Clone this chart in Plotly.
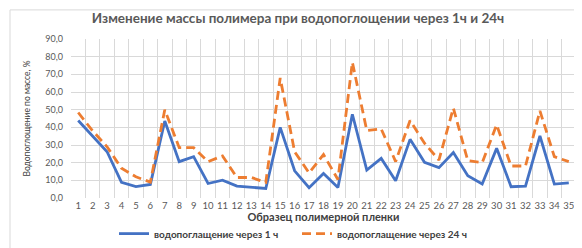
import plotly.graph_objects as go

samples = [str(i) for i in range(1, 36)]
water_1h = [43.9, 35.0, 26.2, 8.8, 6.4, 7.7, 43.6, 20.6, 23.4, 8.2,
            10.1, 6.7, 6.0, 5.4, 40.0, 15.4, 5.8, 13.9, 6.0, 47.4,
            15.8, 22.4, 9.8, 33.2, 20.2, 17.2, 25.7, 12.6, 7.9, 28.1,
            6.4, 6.7, 35.1, 7.9, 8.6]
water_24h = [48.4, 38.0, 29.0, 16.8, 12.0, 9.0, 49.9, 28.5, 28.5, 20.6,
             23.8, 11.6, 11.6, 8.8, 67.9, 26.2, 14.2, 24.6, 10.5, 76.8,
             38.2, 39.1, 20.6, 43.9, 31.0, 21.5, 50.9, 21.1, 20.0, 41.4,
             18.1, 18.1, 49.3, 23.4, 20.6]
name_1h = "водопоглащение через 1 ч"
name_24h = "водопоглащение через 24 ч"
title_text = "Изменение массы полимера при водопоглощении через 1ч и 24ч"
y_title = "Водопоглощение по массе, %"
x_title = "Образец полимерной пленки"

FONT = "Lato"
GRAY = "#595959"

fig = go.Figure()
fig.add_trace(go.Scatter(x=samples, y=water_1h, mode="lines", name=name_1h,
                         line=dict(color="#4472C4", width=2.8), legend="legend",
                         showlegend=True))
fig.add_trace(go.Scatter(x=samples, y=water_24h, mode="lines", name=name_24h,
                         line=dict(color="#ED7D31", width=2.8, dash="9px,5px"),
                         legend="legend2", showlegend=True))

leg_y = (189.5 - 225) / 158.5
leg_font = dict(size=10, color="#404040", weight="bold")

fig.update_layout(
    width=582, height=248,
    margin=dict(l=63, r=14, t=31, b=58, autoexpand=False),
    paper_bgcolor="white", plot_bgcolor="white",
    separators=", ",
    showlegend=True,
    font=dict(family=FONT, color=GRAY, size=9),
    title=dict(text=title_text, x=290/582, xanchor="center", y=1-10/248, yanchor="middle",
               font=dict(family=FONT, size=13.5, color=GRAY, weight="bold")),
    xaxis=dict(type="category", tickson="boundaries", showgrid=True, gridcolor="#d9d9d9",
               gridwidth=1, ticks="", showline=False, zeroline=False, tickangle=0,
               automargin=False, range=[-0.5, 34.5],
               tickfont=dict(size=9.5, color=GRAY),
               title=dict(text=x_title, standoff=0,
                          font=dict(size=11, color="#404040", weight="bold"))),
    yaxis=dict(range=[0, 90], dtick=10, tickformat=".1f", showgrid=True,
               gridcolor="#d9d9d9", gridwidth=1, zeroline=False, showline=False,
               automargin=False,
               ticks="", ticklabelstandoff=7, tickfont=dict(size=9, color=GRAY),
               title=dict(text=y_title, standoff=13,
                          font=dict(size=8.5, color="#404040"))),
    legend=dict(orientation="h", x=(106-63)/505, xanchor="left",
                y=leg_y, yanchor="middle", font=leg_font,
                bgcolor="rgba(0,0,0,0)"),
    legend2=dict(orientation="h", x=(289-63)/505, xanchor="left",
                 y=leg_y, yanchor="middle", font=leg_font,
                 bgcolor="rgba(0,0,0,0)"),
    shapes=[dict(type="rect", xref="paper", yref="paper",
                 x0=(2-63)/505, x1=(578-63)/505, y0=(189.5-245)/158.5, y1=(189.5-2)/158.5,
                 line=dict(color="#d9d9d9", width=1), layer="below")],
)

fig.write_html("out.html")
